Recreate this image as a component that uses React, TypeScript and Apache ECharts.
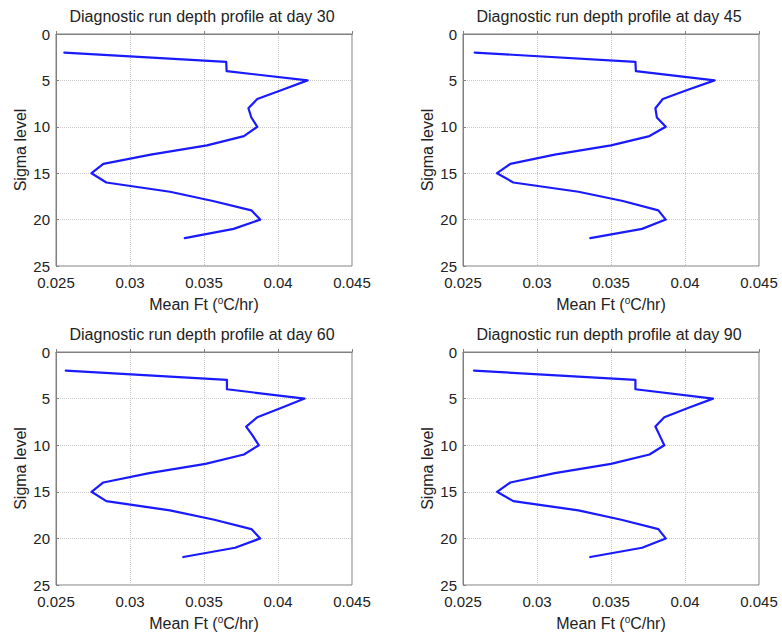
import React, { useEffect, useRef } from "react";
import * as echarts from "echarts";

const levels = [2, 3, 4, 5, 6, 7, 8, 9, 10, 11, 12, 13, 14, 15, 16, 17, 18, 19, 20, 21, 22];
const day30 = [0.02556, 0.03650, 0.03653, 0.0420, 0.0403, 0.0386, 0.0380, 0.0382, 0.0386, 0.0377, 0.0352, 0.0314, 0.0282, 0.0274, 0.0284, 0.0327, 0.0356, 0.0382, 0.0388, 0.0370, 0.0337];
const day45 = [0.02579, 0.03665, 0.03668, 0.0420, 0.0402, 0.0385, 0.0380, 0.0381, 0.0387, 0.0376, 0.0350, 0.0312, 0.0282, 0.0273, 0.0284, 0.0328, 0.0358, 0.0382, 0.0387, 0.0371, 0.0336];
const day60 = [0.02566, 0.03655, 0.03655, 0.0418, 0.0402, 0.0386, 0.03785, 0.0383, 0.0387, 0.0377, 0.0351, 0.0313, 0.0282, 0.0274, 0.0284, 0.0327, 0.0357, 0.0382, 0.0388, 0.0371, 0.0336];
const day90 = [0.02575, 0.03665, 0.03665, 0.0419, 0.0402, 0.0386, 0.0380, 0.0383, 0.0386, 0.0376, 0.0350, 0.0312, 0.0282, 0.0273, 0.0284, 0.0328, 0.0357, 0.0382, 0.0387, 0.0371, 0.0336];
const days = ["30", "45", "60", "90"];
const xTicks = [0.025, 0.045, 0.005];
const yTicks = [0, 25, 5];

export default function App() {
  const ref = useRef<HTMLDivElement>(null);
  useEffect(() => {
    document.body.style.margin = "0";
    const chart = echarts.init(ref.current!, null, { renderer: "svg" });
    const series = [day30, day45, day60, day90];
    const grids = [
      { left: 56, top: 34, width: 296, height: 232 },
      { left: 463, top: 34, width: 296, height: 232 },
      { left: 56, top: 352, width: 296, height: 233 },
      { left: 463, top: 352, width: 296, height: 233 },
    ];
    const font = "Liberation Sans, Arial, sans-serif";
    const gridLine = { show: true, lineStyle: { color: "#c8c8c8", type: "dotted" as const, width: 1 } };
    const option: any = {
      animation: false,
      backgroundColor: "#fff",
      grid: grids.map((g) => ({ ...g, show: true, borderColor: "#808080", borderWidth: 1, backgroundColor: "transparent" })),
      xAxis: grids.map((_, i) => ({
        type: "value",
        gridIndex: i,
        min: xTicks[0],
        max: xTicks[1],
        interval: xTicks[2],
        axisLine: { show: true, lineStyle: { color: "#808080" } },
        axisTick: { show: true, inside: true, length: 3, lineStyle: { color: "#808080" } },
        splitLine: gridLine,
        axisLabel: {
          color: "#222",
          fontFamily: font,
          fontSize: 15,
          margin: 9,
          formatter: (v: number) => String(+v.toFixed(3)),
        },
        name: "Mean Ft ({sup|o}C/hr)",
        nameLocation: "middle",
        nameGap: 29,
        nameTextStyle: {
          color: "#222",
          fontFamily: font,
          fontSize: 16,
          rich: { sup: { fontSize: 10, verticalAlign: "top", padding: [0, 0, 8, 0], fontFamily: font, color: "#222" } },
        },
      })),
      yAxis: grids.map((_, i) => ({
        type: "value",
        gridIndex: i,
        inverse: true,
        min: yTicks[0],
        max: yTicks[1],
        interval: yTicks[2],
        axisLine: { show: true, lineStyle: { color: "#808080" } },
        axisTick: { show: true, inside: true, length: 3, lineStyle: { color: "#808080" } },
        splitLine: gridLine,
        axisLabel: { color: "#222", fontFamily: font, fontSize: 15, margin: 6 },
        name: "Sigma level",
        nameLocation: "middle",
        nameGap: 28,
        nameTextStyle: { color: "#222", fontFamily: font, fontSize: 16 },
      })),
      graphic: grids.map((g, i) => ({
        type: "text",
        x: g.left + g.width / 2 - 2,
        y: g.top - 18,
        style: {
          text: "Diagnostic run depth profile at day " + days[i],
          fontFamily: font,
          fontSize: 16,
          fill: "#222",
          align: "center",
          verticalAlign: "middle",
        },
      })),
      series: series.map((d, i) => ({
        type: "line",
        xAxisIndex: i,
        yAxisIndex: i,
        data: d.map((x, j) => [x, levels[j]]),
        showSymbol: false,
        symbol: "none",
        lineStyle: { color: "#1a1aff", width: 2.2, join: "round", cap: "round" },
      })),
    };
    chart.setOption(option);
    return () => chart.dispose();
  }, []);
  return <div ref={ref} style={{ width: 782, height: 638 }} />;
}
